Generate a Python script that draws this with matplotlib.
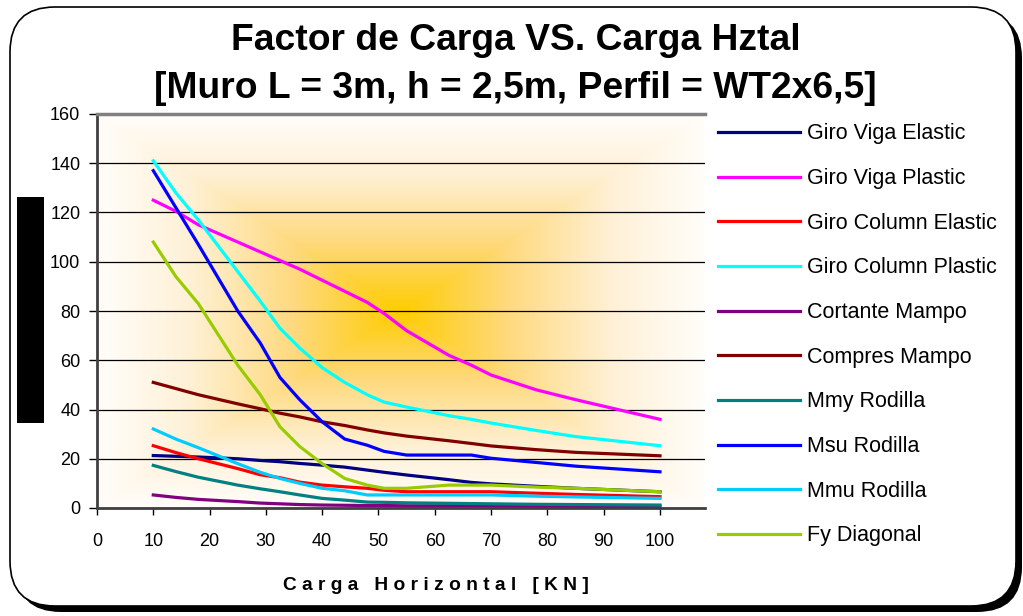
import numpy as np
import matplotlib
matplotlib.use("Agg")
import matplotlib.pyplot as plt
import matplotlib.patches as mpatches
from matplotlib import font_manager
from matplotlib.transforms import IdentityTransform

# data
x_carga = [10, 14, 18, 25, 29, 32.5, 36, 40, 44, 48, 51, 55, 62.5, 66.5, 70, 78, 85, 100]

giro_viga_elastic = [21.3, 21.0, 20.7, 20.0, 19.3, 18.8, 18.1, 17.4, 16.6, 15.4, 14.5, 13.4, 11.5, 10.4, 9.8, 8.8, 8.0, 6.6]
giro_viga_plastic = [125, 120.5, 115, 108, 104, 100.5, 97, 92.5, 88, 83.5, 79, 72, 62, 58, 54, 48, 44, 36]
giro_column_elastic = [25.3, 22.5, 20.0, 16.0, 13.5, 12.3, 10.5, 9.3, 8.6, 8.0, 7.2, 6.6, 6.6, 6.6, 6.6, 6.0, 5.5, 4.6]
giro_column_plastic = [141, 128, 117, 96, 84, 73, 65, 57, 51, 46, 43, 41, 37.5, 36, 34.5, 31.5, 29, 25.3]
cortante_mampo = [5.3, 4.3, 3.5, 2.6, 2.0, 1.7, 1.4, 1.2, 1.1, 1.0, 1.0, 0.9, 0.9, 0.9, 0.9, 0.8, 0.8, 0.8]
compres_mampo = [51, 48.5, 46, 42.3, 40.3, 38.5, 37, 35, 33.5, 31.7, 30.5, 29.2, 27.3, 26.2, 25.2, 23.7, 22.6, 21.2]
mmy_rodilla = [17.3, 14.8, 12.5, 9.3, 7.8, 6.6, 5.3, 3.9, 3.2, 2.4, 2.3, 2.1, 1.9, 1.8, 1.7, 1.5, 1.4, 1.2]
msu_rodilla = [137, 122, 107, 80, 67, 53, 44, 35, 28, 25.5, 23, 21.5, 21.5, 21.5, 20.2, 18.5, 17, 14.7]
mmu_rodilla = [32.1, 28, 24.5, 18, 14.5, 12, 10, 8, 7, 5.3, 5.3, 5.3, 5.3, 5.3, 5.3, 4.8, 4.5, 3.9]
fy_diagonal = [108, 94, 83, 58, 46, 33, 25, 18, 12, 9.3, 8, 8, 9.3, 9.3, 9.3, 8.5, 8, 6.6]

labels = ["Giro Viga Elastic", "Giro Viga Plastic", "Giro Column Elastic",
          "Giro Column Plastic", "Cortante Mampo", "Compres Mampo",
          "Mmy Rodilla", "Msu Rodilla", "Mmu Rodilla", "Fy Diagonal"]
series = [giro_viga_elastic, giro_viga_plastic, giro_column_elastic,
          giro_column_plastic, cortante_mampo, compres_mampo,
          mmy_rodilla, msu_rodilla, mmu_rodilla, fy_diagonal]
colors = ["#000080", "#FF00FF", "#FF0000", "#00FFFF", "#800080",
          "#800000", "#008080", "#0000FF", "#00CCFF", "#99CC00"]

x_ticks = list(range(0, 101, 10))
y_ticks = list(range(0, 161, 20))

W, H = 1023, 616
fig = plt.figure(figsize=(W / 100, H / 100), dpi=100)

# rounded chart frame with shadow (behind the axes)
shadow = mpatches.FancyBboxPatch((16, H - 612), 1006, 599,
                                 boxstyle="round,pad=0,rounding_size=45",
                                 transform=IdentityTransform(), facecolor="black",
                                 edgecolor="none", zorder=-3)
frame = mpatches.FancyBboxPatch((10, H - 606), 1006, 599,
                                boxstyle="round,pad=0,rounding_size=45",
                                transform=IdentityTransform(), facecolor="white",
                                edgecolor="black", linewidth=1.2, zorder=-2)
fig.patches.extend([shadow, frame])

ax = fig.add_axes([97 / W, (H - 508) / H, (705 - 97) / W, (508 - 114) / H])
ax.set_facecolor("none")

# rectangular "from center" gradient background
n = 400
u = np.abs(np.linspace(-1, 1, n))
t = np.maximum(u[None, :], u[:, None])
stops = [0.0, 0.35, 0.7, 1.0]
r = np.interp(t, stops, [255, 254, 255, 255])
g = np.interp(t, stops, [204, 217, 241, 253])
b = np.interp(t, stops, [0, 125, 215, 250])
img = np.dstack([r, g, b]) / 255.0
ax.imshow(img, extent=[0, 1, 0, 1], transform=ax.transAxes, aspect="auto", zorder=0)

for vals, lab, col in zip(series, labels, colors):
    ax.plot(x_carga, vals, color=col, lw=2.3, label=lab, zorder=3, solid_joinstyle="round")

ax.set_xlim(0, 108)
ax.set_ylim(0, 160)
ax.set_xticks(x_ticks)
ax.set_yticks(y_ticks)
ax.yaxis.grid(True, color="black", lw=0.9, zorder=1)
ax.set_axisbelow(True)
ax.tick_params(axis="x", length=5, width=1, pad=13, labelsize=13, color="black")
ax.tick_params(axis="y", length=6, width=1, pad=6, labelsize=13, color="black")
for lbl in ax.get_xticklabels() + ax.get_yticklabels():
    lbl.set_fontfamily("Liberation Sans")

ax.spines["top"].set_color("#808080")
ax.spines["top"].set_linewidth(2.5)
ax.spines["right"].set_visible(False)
ax.spines["left"].set_color("#404040")
ax.spines["left"].set_linewidth(2)
ax.spines["bottom"].set_color("#404040")
ax.spines["bottom"].set_linewidth(2)

# title: narrow bold font if present
names = {f.name for f in font_manager.fontManager.ttflist}
if "Liberation Sans Narrow" in names:
    tfam, tsize = "Liberation Sans Narrow", 31
else:
    tfam, tsize = "Liberation Sans", 26.8
fig.text(516 / W, 1 - 40 / H, "Factor de Carga VS. Carga Hztal", ha="center", va="center",
         fontsize=tsize, fontweight="bold", family=tfam)
fig.text(515 / W, 1 - 88 / H, "[Muro L = 3m, h = 2,5m, Perfil = WT2x6,5]", ha="center",
         va="center", fontsize=tsize, fontweight="bold", family=tfam)

fig.text(436 / W, 1 - 585 / H, "C a r g a   H o r i z o n t a l   [ K N ]", ha="center",
         va="center", fontsize=13.8, fontweight="bold", family="Liberation Sans")

# black block where the y label sits
fig.patches.append(mpatches.Rectangle((17 / W, 1 - 423 / H), 27 / W, 226 / H,
                                      transform=fig.transFigure, facecolor="black",
                                      edgecolor="none"))

leg = fig.legend(loc="upper left", bbox_to_anchor=(699 / W, 1 - 104 / H),
                 frameon=False, handlelength=3.8, handletextpad=0.3,
                 labelspacing=1.1, prop={"family": "Liberation Sans", "size": 15.5})
for line in leg.get_lines():
    line.set_linewidth(2.3)

fig.savefig("out.png", dpi=100)
